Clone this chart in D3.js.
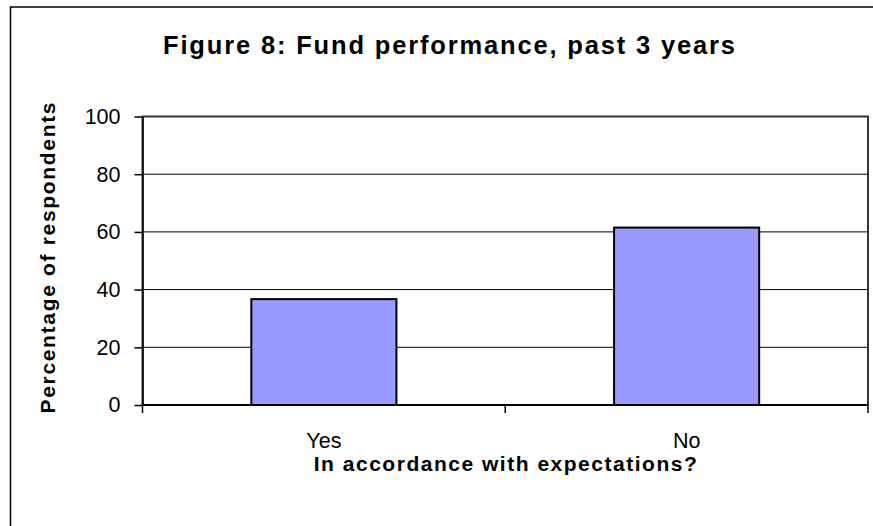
<!DOCTYPE html>
<meta charset='utf-8'>
<style>
	body {
		margin: 0;
		background: #fff;
	}

	svg {
		display: block;
		font-family: 'Liberation Sans', Arial, sans-serif;
	}

	.grid line {
		stroke: #000;
		stroke-width: 1px;
	}

	.bar {
		fill: #9999ff;
		stroke: #000;
		stroke-width: 2px;
	}
</style>
<body>
<script src='https://cdn.jsdelivr.net/npm/d3@7'></script>

<script type='text/javascript'>
	// values
	var categories = ['Yes', 'No'];
	var percents = [36.7, 61.5];
	var yTicks = [0, 20, 40, 60, 80, 100];

	var titleText = 'Figure 8: Fund performance, past 3 years';
	var yTitle = 'Percentage of respondents';
	var xTitle = 'In accordance with expectations?';

	var svgW = 873, svgH = 526;
	var plot = {left: 142.5, top: 116.5, right: 868, bottom: 405};

	var svg = d3.select('body').append('svg')
		.attr('width', svgW).attr('height', svgH);

	// outer chart frame, runs off the page at right and bottom
	svg.append('rect')
		.attr('x', 10.5).attr('y', 7)
		.attr('width', 900).attr('height', 560)
		.attr('fill', 'none').attr('stroke', '#000').attr('stroke-width', 1.5);

	var x = d3.scaleBand()
		.domain(categories)
		.range([plot.left, plot.right])
		.paddingInner(0.6)
		.paddingOuter(0.3);

	var y = d3.scaleLinear()
		.domain([0, 100])
		.range([plot.bottom, plot.top]);

	// gridlines
	svg.append('g').attr('class', 'grid')
		.selectAll('line').data(yTicks.slice(1)).enter().append('line')
		.attr('x1', plot.left).attr('x2', plot.right)
		.attr('y1', function (d) { return y(d); })
		.attr('y2', function (d) { return y(d); });

	// plot area border
	svg.append('rect')
		.attr('x', plot.left).attr('y', plot.top)
		.attr('width', plot.right - plot.left).attr('height', plot.bottom - plot.top)
		.attr('fill', 'none').attr('stroke', '#333').attr('stroke-width', 2);

	svg.append('g').selectAll('rect').data(percents).enter().append('rect')
		.attr('class', 'bar')
		.attr('x', function (d, i) { return x(categories[i]); })
		.attr('width', x.bandwidth())
		.attr('y', function (d) { return y(d); })
		.attr('height', function (d) { return y(0) - y(d); });

	// y axis
	var yAxis = svg.append('g')
		.attr('transform', 'translate(' + plot.left + ',0)')
		.call(d3.axisLeft(y).tickValues(yTicks).tickSize(8).tickPadding(14).tickSizeOuter(0));
	yAxis.select('.domain').attr('stroke', '#000').attr('stroke-width', 1.5);
	yAxis.selectAll('.tick line').attr('stroke', '#000').attr('stroke-width', 1.5);
	yAxis.selectAll('text')
		.attr('font-size', 21.5).attr('fill', '#000')
		.attr('font-family', "'Liberation Sans', Arial, sans-serif");

	// x axis: ticks sit on the category boundaries
	var bounds = [plot.left].concat(categories.map(function (c) { return x(c) + x.bandwidth() / 2 + x.step() / 2; }));
	var xAxis = svg.append('g');
	xAxis.append('line')
		.attr('x1', plot.left).attr('x2', plot.right)
		.attr('y1', plot.bottom).attr('y2', plot.bottom)
		.attr('stroke', '#000').attr('stroke-width', 2);
	xAxis.selectAll('.xt').data(bounds).enter().append('line')
		.attr('x1', function (d) { return d; }).attr('x2', function (d) { return d; })
		.attr('y1', plot.bottom).attr('y2', plot.bottom + 8)
		.attr('stroke', '#000').attr('stroke-width', 1.5);
	xAxis.selectAll('text').data(categories).enter().append('text')
		.attr('x', function (d) { return x(d) + x.bandwidth() / 2; })
		.attr('y', 448)
		.attr('text-anchor', 'middle')
		.attr('font-size', 21.5)
		.text(function (d) { return d; });

	// titles
	svg.append('text')
		.attr('x', 449).attr('y', 54)
		.attr('text-anchor', 'middle')
		.attr('font-size', 25.5).attr('font-weight', 'bold')
		.attr('textLength', 572).attr('lengthAdjust', 'spacing')
		.text(titleText);

	svg.append('text')
		.attr('x', (plot.left + plot.right) / 2).attr('y', 471)
		.attr('text-anchor', 'middle')
		.attr('font-size', 21).attr('font-weight', 'bold')
		.attr('textLength', 383).attr('lengthAdjust', 'spacing')
		.text(xTitle);

	svg.append('text')
		.attr('transform', 'translate(55,258) rotate(-90)')
		.attr('text-anchor', 'middle')
		.attr('font-size', 21).attr('font-weight', 'bold')
		.attr('textLength', 311).attr('lengthAdjust', 'spacing')
		.text(yTitle);
</script>
